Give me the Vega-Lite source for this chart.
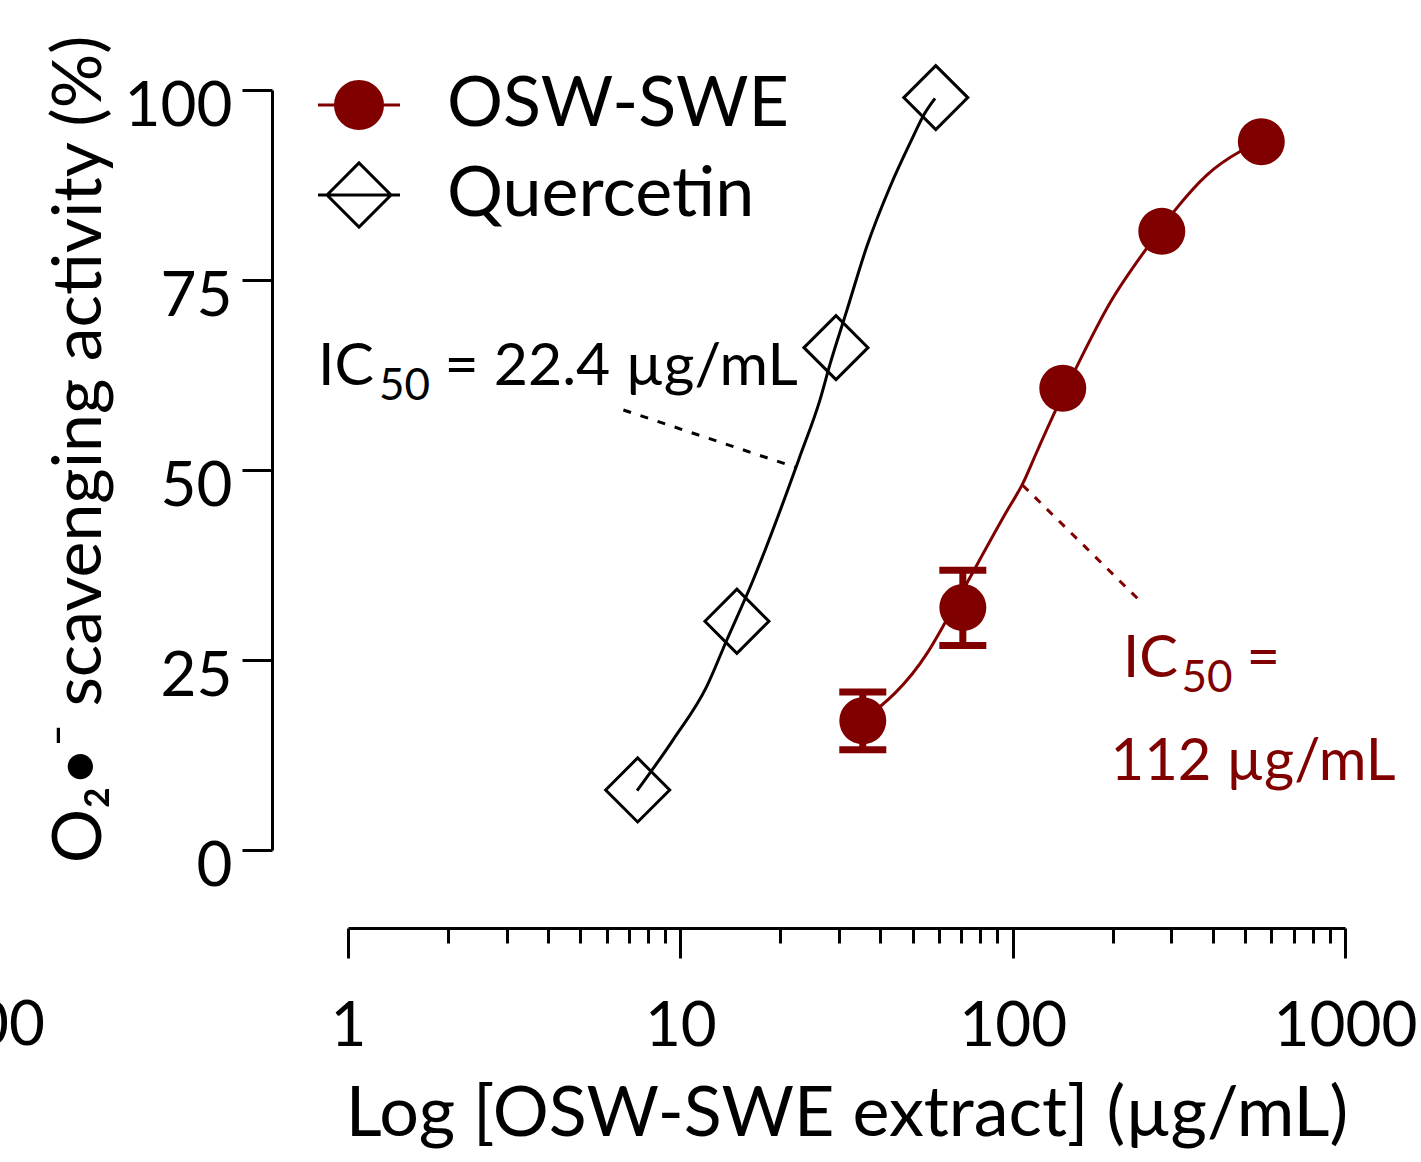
{
  "$schema": "https://vega.github.io/schema/vega-lite/v6.json",
  "width": 997,
  "height": 760,
  "autosize": "none",
  "padding": {"left": 348, "top": 90, "right": 76, "bottom": 312},
  "background": "white",
  "config": {
    "view": {"stroke": null},
    "font": "Lato",
    "axis": {"domainColor": "black", "domainWidth": 3, "tickColor": "black", "tickWidth": 3, "labelColor": "black", "titleColor": "black", "labelFont": "Lato", "titleFont": "Lato", "grid": false, "titleFontWeight": "normal"},
    "legend": {"orient": "none", "legendX": -24, "legendY": -20, "padding": 0, "labelFont": "Lato", "labelFontSize": 70, "labelLimit": 0, "labelColor": "black", "labelOffset": 53, "rowPadding": 16, "symbolStrokeWidth": 3, "labelBaseline": "middle"}
  },
  "datasets": {
    "pts": [
      {"series": "Quercetin", "conc": 7.44, "act": 7.9},
      {"series": "Quercetin", "conc": 14.8, "act": 30.1},
      {"series": "Quercetin", "conc": 29.4, "act": 66.1},
      {"series": "Quercetin", "conc": 58.7, "act": 99.0},
      {"series": "OSW-SWE", "conc": 35.4, "act": 17.0, "lo": 13.2, "hi": 20.8},
      {"series": "OSW-SWE", "conc": 70.8, "act": 31.9, "lo": 26.9, "hi": 36.8},
      {"series": "OSW-SWE", "conc": 141.5, "act": 60.75},
      {"series": "OSW-SWE", "conc": 281, "act": 81.4},
      {"series": "OSW-SWE", "conc": 560, "act": 93.2}
    ],
    "curves": [
      {"series": "Quercetin", "conc": 7.41, "act": 7.8},
      {"series": "Quercetin", "conc": 9.51, "act": 14.5},
      {"series": "Quercetin", "conc": 12.0, "act": 21.5},
      {"series": "Quercetin", "conc": 13.79, "act": 27.6},
      {"series": "Quercetin", "conc": 16.55, "act": 35.5},
      {"series": "Quercetin", "conc": 20.9, "act": 47.0},
      {"series": "Quercetin", "conc": 22.9, "act": 51.8},
      {"series": "Quercetin", "conc": 26.3, "act": 59.2},
      {"series": "Quercetin", "conc": 28.2, "act": 63.9},
      {"series": "Quercetin", "conc": 31.7, "act": 71.0},
      {"series": "Quercetin", "conc": 36.4, "act": 79.4},
      {"series": "Quercetin", "conc": 42.8, "act": 87.3},
      {"series": "Quercetin", "conc": 49.1, "act": 93.0},
      {"series": "Quercetin", "conc": 54.5, "act": 97.0},
      {"series": "Quercetin", "conc": 58.4, "act": 98.9},
      {"series": "OSW-SWE", "conc": 35.4, "act": 17.0},
      {"series": "OSW-SWE", "conc": 55.3, "act": 25.9},
      {"series": "OSW-SWE", "conc": 62.6, "act": 29.9},
      {"series": "OSW-SWE", "conc": 72.8, "act": 35.1},
      {"series": "OSW-SWE", "conc": 95.5, "act": 44.4},
      {"series": "OSW-SWE", "conc": 107.2, "act": 48.2},
      {"series": "OSW-SWE", "conc": 118.8, "act": 52.6},
      {"series": "OSW-SWE", "conc": 134.2, "act": 57.7},
      {"series": "OSW-SWE", "conc": 155.9, "act": 63.6},
      {"series": "OSW-SWE", "conc": 196.4, "act": 72.0},
      {"series": "OSW-SWE", "conc": 253.3, "act": 79.2},
      {"series": "OSW-SWE", "conc": 308.1, "act": 84.2},
      {"series": "OSW-SWE", "conc": 383.8, "act": 88.8},
      {"series": "OSW-SWE", "conc": 483.4, "act": 91.9},
      {"series": "OSW-SWE", "conc": 560.3, "act": 93.2}
    ],
    "ic50": [
      {"series": "Quercetin", "conc": 6.74, "act": 57.9},
      {"series": "Quercetin", "conc": 22.4, "act": 50.3},
      {"series": "OSW-SWE", "conc": 107.2, "act": 48.0},
      {"series": "OSW-SWE", "conc": 240, "act": 32.9}
    ],
    "notes": [
      {"series": "Quercetin", "part": "main", "text": "IC", "conc": 0.812, "act": 61.2},
      {"series": "Quercetin", "part": "sub", "text": "50", "conc": 1.24, "act": 59.2},
      {"series": "Quercetin", "part": "main", "text": "= 22.4 µg/mL", "conc": 1.95, "act": 61.2},
      {"series": "OSW-SWE", "part": "main", "text": "IC", "conc": 214.9, "act": 22.76},
      {"series": "OSW-SWE", "part": "sub", "text": "50", "conc": 322, "act": 20.79},
      {"series": "OSW-SWE", "part": "main", "text": "=", "conc": 505, "act": 22.76},
      {"series": "OSW-SWE", "part": "main", "text": "112 µg/mL", "conc": 197, "act": 9.21},
      {"series": "edge", "part": "main", "text": "100", "conc": 0.1225, "act": -25.7}
    ]
  },
  "layer": [
    {
      "data": {"name": "curves"},
      "transform": [{"filter": "datum.series === 'Quercetin'"}],
      "mark": {"type": "line", "color": "black", "strokeWidth": 3, "interpolate": "monotone"},
      "encoding": {
        "x": {"field": "conc", "type": "quantitative", "scale": {"type": "log", "domain": [1, 1000]},
          "axis": {"orient": "bottom", "offset": 78, "values": [1, 10, 100, 1000], "format": "d", "tickSize": 30, "labelFontSize": 62, "labelBaseline": "alphabetic", "labelPadding": 87, "labelFlush": false, "labelOverlap": false,
            "title": "Log [OSW-SWE extract] (µg/mL)", "titleFontSize": 70, "titleBaseline": "alphabetic", "titleY": 207}},
        "y": {"field": "act", "type": "quantitative", "scale": {"domain": [0, 100]},
          "axis": {"offset": 76, "values": [0, 25, 50, 75, 100], "tickSize": 30, "labelFontSize": 62, "labelPadding": 10, "labelBaseline": "alphabetic", "labelOffset": 35,
            "title": "O₂•⁻ scavenging activity (%)", "titleFontSize": 68, "titleBaseline": "alphabetic", "titleX": -172, "titleY": 359}}
      }
    },
    {
      "data": {"name": "curves"},
      "transform": [{"filter": "datum.series === 'OSW-SWE'"}],
      "mark": {"type": "line", "color": "#800000", "strokeWidth": 3, "interpolate": "monotone"},
      "encoding": {
        "x": {"field": "conc", "type": "quantitative", "scale": {"type": "log", "domain": [1, 1000]},
          "axis": {"orient": "bottom", "offset": 78, "values": [2, 3, 4, 5, 6, 7, 8, 9, 20, 30, 40, 50, 60, 70, 80, 90, 200, 300, 400, 500, 600, 700, 800, 900], "tickSize": 15, "labels": false, "domain": false, "title": null}},
        "y": {"field": "act", "type": "quantitative", "scale": {"domain": [0, 100]}}
      }
    },
    {
      "data": {"name": "ic50"},
      "transform": [{"filter": "datum.series === 'Quercetin'"}],
      "mark": {"type": "line", "color": "black", "strokeWidth": 3, "strokeDash": [8, 10]},
      "encoding": {
        "x": {"field": "conc", "type": "quantitative", "scale": {"type": "log", "domain": [1, 1000]}, "axis": null},
        "y": {"field": "act", "type": "quantitative", "scale": {"domain": [0, 100]}}
      }
    },
    {
      "data": {"name": "ic50"},
      "transform": [{"filter": "datum.series === 'OSW-SWE'"}],
      "mark": {"type": "line", "color": "#800000", "strokeWidth": 3, "strokeDash": [8, 9]},
      "encoding": {
        "x": {"field": "conc", "type": "quantitative", "scale": {"type": "log", "domain": [1, 1000]}, "axis": null},
        "y": {"field": "act", "type": "quantitative", "scale": {"domain": [0, 100]}}
      }
    },
    {
      "data": {"name": "pts"},
      "transform": [{"filter": "isValid(datum.lo)"}],
      "mark": {"type": "rule", "color": "#800000", "strokeWidth": 7},
      "encoding": {
        "x": {"field": "conc", "type": "quantitative", "scale": {"type": "log", "domain": [1, 1000]}, "axis": null},
        "y": {"field": "lo", "type": "quantitative", "scale": {"domain": [0, 100]}},
        "y2": {"field": "hi"}
      }
    },
    {
      "data": {"name": "pts"},
      "transform": [{"filter": "isValid(datum.lo)"}],
      "mark": {"type": "tick", "orient": "horizontal", "color": "#800000", "size": 47, "thickness": 7, "opacity": 1},
      "encoding": {
        "x": {"field": "conc", "type": "quantitative", "scale": {"type": "log", "domain": [1, 1000]}, "axis": null},
        "y": {"field": "lo", "type": "quantitative", "scale": {"domain": [0, 100]}}
      }
    },
    {
      "data": {"name": "pts"},
      "transform": [{"filter": "isValid(datum.hi)"}],
      "mark": {"type": "tick", "orient": "horizontal", "color": "#800000", "size": 47, "thickness": 7, "opacity": 1},
      "encoding": {
        "x": {"field": "conc", "type": "quantitative", "scale": {"type": "log", "domain": [1, 1000]}, "axis": null},
        "y": {"field": "hi", "type": "quantitative", "scale": {"domain": [0, 100]}}
      }
    },
    {
      "data": {"name": "pts"},
      "transform": [{"filter": "datum.series === 'Quercetin'"}],
      "mark": {"type": "point", "shape": "diamond", "size": 4100, "filled": false, "stroke": "black", "strokeWidth": 3, "opacity": 1},
      "encoding": {
        "x": {"field": "conc", "type": "quantitative", "scale": {"type": "log", "domain": [1, 1000]}, "axis": null},
        "y": {"field": "act", "type": "quantitative", "scale": {"domain": [0, 100]}}
      }
    },
    {
      "data": {"name": "pts"},
      "transform": [{"filter": "datum.series === 'OSW-SWE'"}],
      "mark": {"type": "point", "shape": "circle", "size": 2209, "filled": true, "color": "#800000", "opacity": 1},
      "encoding": {
        "x": {"field": "conc", "type": "quantitative", "scale": {"type": "log", "domain": [1, 1000]}, "axis": null},
        "y": {"field": "act", "type": "quantitative", "scale": {"domain": [0, 100]}}
      }
    },
    {
      "data": {"name": "notes"},
      "transform": [{"filter": "datum.series === 'Quercetin' && datum.part === 'main'"}],
      "mark": {"type": "text", "align": "left", "baseline": "alphabetic", "font": "Lato", "fontSize": 59, "color": "black"},
      "encoding": {
        "x": {"field": "conc", "type": "quantitative", "scale": {"type": "log", "domain": [1, 1000]}, "axis": null},
        "y": {"field": "act", "type": "quantitative", "scale": {"domain": [0, 100]}},
        "text": {"field": "text"}
      }
    },
    {
      "data": {"name": "notes"},
      "transform": [{"filter": "datum.series === 'Quercetin' && datum.part === 'sub'"}],
      "mark": {"type": "text", "align": "left", "baseline": "alphabetic", "font": "Lato", "fontSize": 44, "color": "black"},
      "encoding": {
        "x": {"field": "conc", "type": "quantitative", "scale": {"type": "log", "domain": [1, 1000]}, "axis": null},
        "y": {"field": "act", "type": "quantitative", "scale": {"domain": [0, 100]}},
        "text": {"field": "text"}
      }
    },
    {
      "data": {"name": "notes"},
      "transform": [{"filter": "datum.series === 'OSW-SWE' && datum.part === 'main'"}],
      "mark": {"type": "text", "align": "left", "baseline": "alphabetic", "font": "Lato", "fontSize": 58, "color": "#800000"},
      "encoding": {
        "x": {"field": "conc", "type": "quantitative", "scale": {"type": "log", "domain": [1, 1000]}, "axis": null},
        "y": {"field": "act", "type": "quantitative", "scale": {"domain": [0, 100]}},
        "text": {"field": "text"}
      }
    },
    {
      "data": {"name": "notes"},
      "transform": [{"filter": "datum.series === 'OSW-SWE' && datum.part === 'sub'"}],
      "mark": {"type": "text", "align": "left", "baseline": "alphabetic", "font": "Lato", "fontSize": 44, "color": "#800000"},
      "encoding": {
        "x": {"field": "conc", "type": "quantitative", "scale": {"type": "log", "domain": [1, 1000]}, "axis": null},
        "y": {"field": "act", "type": "quantitative", "scale": {"domain": [0, 100]}},
        "text": {"field": "text"}
      }
    },
    {
      "data": {"name": "notes"},
      "transform": [{"filter": "datum.series === 'edge'"}],
      "mark": {"type": "text", "align": "right", "baseline": "alphabetic", "font": "Lato", "fontSize": 62, "color": "black"},
      "encoding": {
        "x": {"field": "conc", "type": "quantitative", "scale": {"type": "log", "domain": [1, 1000]}, "axis": null},
        "y": {"field": "act", "type": "quantitative", "scale": {"domain": [0, 100]}},
        "text": {"field": "text"}
      }
    },
    {
      "data": {"name": "pts"},
      "transform": [{"filter": "false"}],
      "mark": {"type": "point", "filled": true, "strokeWidth": 3, "opacity": 1},
      "encoding": {
        "x": {"field": "conc", "type": "quantitative", "scale": {"type": "log", "domain": [1, 1000]}, "axis": null},
        "y": {"field": "act", "type": "quantitative", "scale": {"domain": [0, 100]}},
        "shape": {"field": "series", "type": "nominal", "scale": {"domain": ["OSW-SWE", "Quercetin"], "range": ["M-1.745,0H-1M1,0H1.745M-1,0A1,1,0,1,1,1,0A1,1,0,1,1,-1,0Z", "M-1.28,0H1.28M-1,0L0,-1L1,0L0,1Z"]}, "legend": {"title": null}},
        "fill": {"field": "series", "type": "nominal", "scale": {"domain": ["OSW-SWE", "Quercetin"], "range": ["#800000", "transparent"]}, "legend": {"title": null}},
        "stroke": {"field": "series", "type": "nominal", "scale": {"domain": ["OSW-SWE", "Quercetin"], "range": ["#800000", "black"]}, "legend": {"title": null}},
        "size": {"field": "series", "type": "nominal", "scale": {"domain": ["OSW-SWE", "Quercetin"], "range": [2209, 4100]}, "legend": {"title": null}}
      }
    }
  ],
  "resolve": {"axis": {"x": "independent"}}
}
